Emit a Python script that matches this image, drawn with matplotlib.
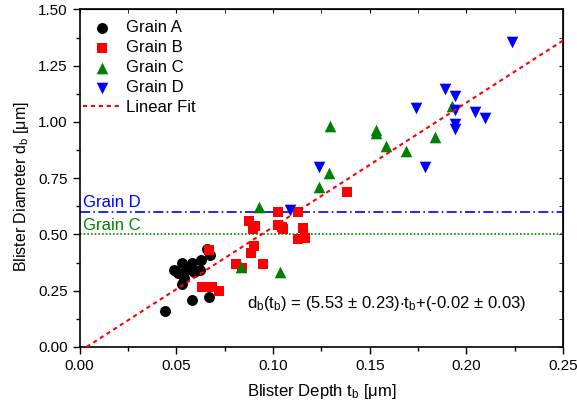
import matplotlib
matplotlib.use("Agg")
import matplotlib.pyplot as plt
from matplotlib.ticker import MultipleLocator, FormatStrFormatter
import numpy as np

plt.rcParams['font.family'] = ['Liberation Sans', 'DejaVu Sans']
plt.rcParams['mathtext.default'] = 'regular'

# Grain A (black circles)
a_x = [0.044, 0.049, 0.051, 0.053, 0.053, 0.054, 0.055, 0.058, 0.059, 0.058,
       0.062, 0.063, 0.0657, 0.0674, 0.067]
a_y = [0.159, 0.340, 0.330, 0.371, 0.278, 0.305, 0.340, 0.371, 0.333, 0.208,
       0.341, 0.386, 0.437, 0.408, 0.220]

# Grain B (red squares)
b_x = [0.0631, 0.0683, 0.0721, 0.0670, 0.0809, 0.0840, 0.0885, 0.0899,
       0.0876, 0.0907, 0.0895, 0.0947, 0.1028, 0.1028, 0.1045, 0.1054,
       0.1131, 0.1154, 0.1128, 0.1166, 0.1382]
b_y = [0.267, 0.267, 0.248, 0.430, 0.368, 0.352, 0.418, 0.448,
       0.560, 0.537, 0.526, 0.368, 0.598, 0.541, 0.533, 0.526,
       0.598, 0.529, 0.479, 0.486, 0.688]

# Grain C (green up triangles)
c_x = [0.0835, 0.0925, 0.1037, 0.1240, 0.1290, 0.1292, 0.1534, 0.1534,
       0.1585, 0.1685, 0.1837, 0.1925]
c_y = [0.353, 0.623, 0.334, 0.711, 0.771, 0.981, 0.964, 0.950,
       0.892, 0.872, 0.934, 1.070]

# Grain D (blue down triangles)
d_x = [0.1089, 0.1240, 0.1737, 0.1787, 0.1889, 0.1939, 0.1939, 0.1939,
       0.1939, 0.2042, 0.2094, 0.2234]
d_y = [0.607, 0.800, 1.064, 0.800, 1.146, 1.116, 1.055, 0.990,
       0.967, 1.045, 1.016, 1.356]

# Linear fit parameters
fit_slope = 5.53
fit_intercept = -0.02
grain_d_level = 0.60
grain_c_level = 0.50

fig = plt.figure(figsize=(5.77, 4.12), dpi=100)
ax = fig.add_axes([0.138, 0.158, 0.838, 0.819])

ax.axhline(grain_d_level, color='#0000ff', lw=1.2, dashes=(6, 2, 1, 2), zorder=1)
ax.axhline(grain_c_level, color='#008000', lw=1.2, dashes=(1, 1.2), zorder=1)
ax.text(0.002, grain_d_level + 0.008, 'Grain D', color='#0000ff', fontsize=12,
        va='bottom', ha='left')
ax.text(0.002, grain_c_level + 0.008, 'Grain C', color='#008000', fontsize=12,
        va='bottom', ha='left')

ax.scatter(a_x, a_y, marker='o', s=62, color='black', label='Grain A', zorder=3, linewidths=0)
ax.scatter(b_x, b_y, marker='s', s=46, color='#ff0000', label='Grain B', zorder=3, linewidths=0)
ax.scatter(c_x, c_y, marker='^', s=70, color='#008000', label='Grain C', zorder=3, linewidths=0)
ax.scatter(d_x, d_y, marker='v', s=70, color='#0000ff', label='Grain D', zorder=3, linewidths=0)

fx = np.array([-fit_intercept / fit_slope, 0.25])
ax.plot(fx, fit_slope * fx + fit_intercept, color='#ff0000', lw=1.5,
        dashes=(2, 1.8), label='Linear Fit', zorder=4)

ax.text(0.0864, 0.195, r'd$_b$(t$_b$) = (5.53 ± 0.23)$\cdot$t$_b$+(-0.02 ± 0.03)',
        fontsize=12, va='center', ha='left')

ax.set_xlim(0, 0.25)
ax.set_ylim(0, 1.5)
ax.xaxis.set_major_locator(MultipleLocator(0.05))
ax.xaxis.set_minor_locator(MultipleLocator(0.025))
ax.yaxis.set_major_locator(MultipleLocator(0.25))
ax.yaxis.set_minor_locator(MultipleLocator(0.125))
ax.xaxis.set_major_formatter(FormatStrFormatter('%.2f'))
ax.yaxis.set_major_formatter(FormatStrFormatter('%.2f'))

ax.tick_params(which='both', direction='out', labelsize=11, top=False, right=False)
ax.tick_params(which='major', length=5, width=1)
ax.tick_params(which='minor', length=3, width=1)
# top/right ticks inward
sec_x = ax.secondary_xaxis('top')
sec_x.xaxis.set_major_locator(MultipleLocator(0.05))
sec_x.xaxis.set_minor_locator(MultipleLocator(0.025))
sec_x.tick_params(which='both', direction='in', labeltop=False, length=3)
sec_y = ax.secondary_yaxis('right')
sec_y.yaxis.set_major_locator(MultipleLocator(0.25))
sec_y.yaxis.set_minor_locator(MultipleLocator(0.125))
sec_y.tick_params(which='both', direction='in', labelright=False, length=3)

for s in ax.spines.values():
    s.set_linewidth(1.2)

ax.set_xlabel('Blister Depth t$_b$ [μm]', fontsize=12, labelpad=7)
ax.set_ylabel('Blister Diameter d$_b$ [μm]', fontsize=11.5)
ax.yaxis.set_label_coords(-0.10, 0.476)

ax.legend(loc='upper left', frameon=False, fontsize=12, handlelength=2.35,
          labelspacing=0.3, handletextpad=0.25, borderaxespad=0.25,
          bbox_to_anchor=(-0.016, 1.0), scatterpoints=1)

fig.savefig('out.png', dpi=100)
